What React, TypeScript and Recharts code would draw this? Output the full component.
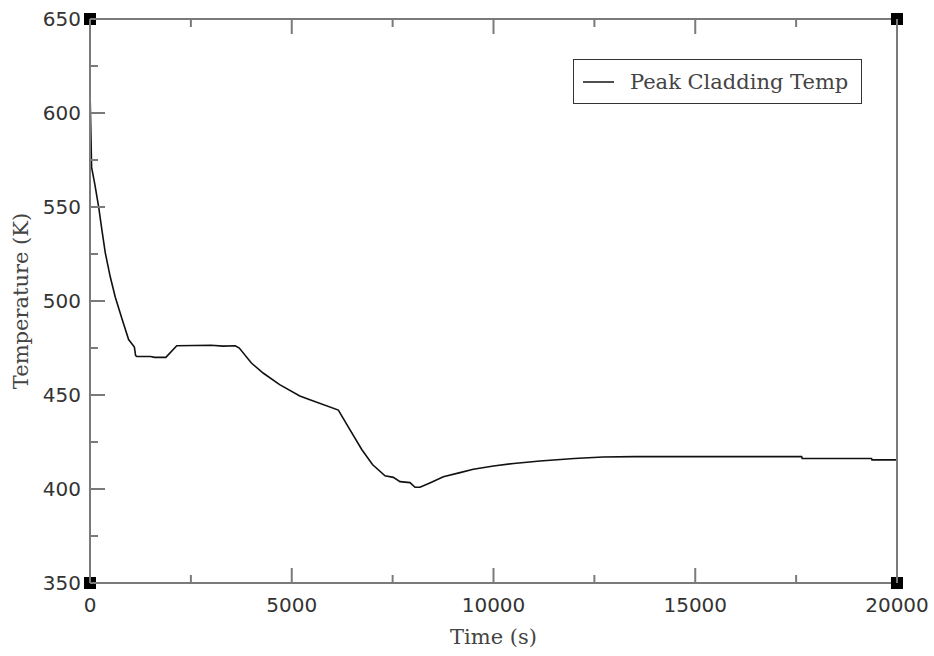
import React from "react";
import {
  LineChart,
  Line,
  XAxis,
  YAxis,
  Legend,
  Label,
  ReferenceDot,
} from "recharts";

// time (s) and peak cladding temperature (K)
const times = [
  0, 40, 120, 215, 300, 380, 500, 627, 800, 957, 1100, 1130, 1160, 1500,
  1600, 1880, 2150, 3000, 3300, 3600, 3700, 4000, 4290, 4700, 5200, 5450,
  6155, 6400, 6735, 7000, 7311, 7518, 7683, 7931, 8055, 8178, 8450, 8757,
  9170, 9500, 10000, 10500, 11152, 12000, 12714, 13500, 15000, 17637, 17650,
  19370, 19380, 20000,
];
const temps = [
  612, 571, 562, 550, 537, 525.5, 513, 502, 490, 479.5, 475.5, 471, 470.5,
  470.5, 470, 470, 476.2, 476.5, 476, 476.2, 475, 467, 461.7, 455.5, 449.5,
  447.5, 442, 433, 421, 413, 407, 406.2, 403.9, 403.4, 400.9, 400.9, 403.5,
  406.5, 408.7, 410.5, 412.2, 413.6, 414.9, 416.2, 417, 417.2, 417.2, 417.2,
  416.2, 416.2, 415.5, 415.5,
];

const xMajor = [0, 5000, 10000, 15000, 20000];
const xMinor = [2500, 7500, 12500, 17500];
const yMajor = [350, 400, 450, 500, 550, 600, 650];
const yMinor = [375, 425, 475, 525, 575, 625];
const corners = [
  [0, 350],
  [0, 650],
  [20000, 350],
  [20000, 650],
];

const data = times.map((t, i) => ({ time: t, temp: temps[i] }));
const xTicks = [...xMajor, ...xMinor].sort((a, b) => a - b);
const yTicks = [...yMajor, ...yMinor].sort((a, b) => a - b);

const frame = "#7a7a7a";
const tickFont = { fontFamily: "DejaVu Sans", fontSize: 20, fill: "#333" };
const titleFont = { fontFamily: "DejaVu Serif", fontSize: 21, fill: "#444" };

const XTick = ({ x, y, payload, side }: any) => {
  const major = xMajor.includes(payload.value);
  const len = major ? 15 : 8;
  const dir = side === "top" ? 1 : -1;
  return (
    <g>
      <line x1={x} x2={x} y1={y} y2={y + dir * len} stroke={frame} strokeWidth={2} />
      {side === "bottom" && major && (
        <text x={x} y={y + 29} textAnchor="middle" {...tickFont}>
          {payload.value}
        </text>
      )}
    </g>
  );
};

const YTick = ({ x, y, payload, side }: any) => {
  const major = yMajor.includes(payload.value);
  const len = major ? 15 : 8;
  const dir = side === "left" ? 1 : -1;
  return (
    <g>
      <line x1={x} x2={x + dir * len} y1={y} y2={y} stroke={frame} strokeWidth={2} />
      {side === "left" && major && (
        <text x={x - 9} y={y + 7} textAnchor="end" {...tickFont}>
          {payload.value}
        </text>
      )}
    </g>
  );
};

const LegendBox = () => (
  <div
    style={{
      width: 289,
      height: 45,
      boxSizing: "border-box",
      border: "1.5px solid #333",
      background: "#fff",
      display: "flex",
      alignItems: "center",
    }}
  >
    <svg width={40} height={20} style={{ marginLeft: 9 }}>
      <line x1={0} x2={31} y1={10} y2={10} stroke="#222" strokeWidth={1.6} />
    </svg>
    <span
      style={{
        fontFamily: "DejaVu Serif",
        fontSize: 21,
        color: "#444",
        marginLeft: 7,
        whiteSpace: "nowrap",
      }}
    >
      Peak Cladding Temp
    </span>
  </div>
);

const Square = ({ cx, cy }: any) => (
  <rect x={cx - 6} y={cy - 6} width={12} height={12} fill="#000" />
);

export default function App() {
  return (
    <div style={{ position: "absolute", left: 0, top: 0, background: "#fff" }}>
      <LineChart
        width={934}
        height={656}
        data={data}
        margin={{ top: 18, right: 36, left: 0, bottom: 0 }}
      >
        <XAxis
          xAxisId="bottom"
          dataKey="time"
          type="number"
          domain={[0, 20000]}
          ticks={xTicks}
          interval={0}
          height={73}
          tickSize={0}
          tickMargin={0}
          tickLine={false}
          axisLine={{ stroke: frame, strokeWidth: 2 }}
          tick={<XTick side="bottom" />}
        >
          <Label
            content={({ viewBox }: any) => (
              <text
                x={viewBox.x + viewBox.width / 2}
                y={viewBox.y + 61}
                textAnchor="middle"
                {...titleFont}
              >
                Time (s)
              </text>
            )}
          />
        </XAxis>
        <XAxis
          xAxisId="top"
          orientation="top"
          type="number"
          dataKey="time"
          domain={[0, 20000]}
          ticks={xTicks}
          interval={0}
          height={1}
          tickSize={0}
          tickMargin={0}
          tickLine={false}
          axisLine={{ stroke: frame, strokeWidth: 2 }}
          tick={<XTick side="top" />}
        />
        <YAxis
          yAxisId="left"
          type="number"
          domain={[350, 650]}
          ticks={yTicks}
          interval={0}
          width={90}
          tickSize={0}
          tickMargin={0}
          tickLine={false}
          axisLine={{ stroke: frame, strokeWidth: 2 }}
          tick={<YTick side="left" />}
        >
          <Label
            content={({ viewBox }: any) => {
              const cx = 28;
              const cy = viewBox.y + viewBox.height / 2;
              return (
                <text
                  x={cx}
                  y={cy}
                  textAnchor="middle"
                  transform={`rotate(-90 ${cx} ${cy})`}
                  {...titleFont}
                >
                  Temperature (K)
                </text>
              );
            }}
          />
        </YAxis>
        <YAxis
          yAxisId="right"
          orientation="right"
          type="number"
          domain={[350, 650]}
          ticks={yTicks}
          interval={0}
          width={1}
          tickSize={0}
          tickMargin={0}
          tickLine={false}
          axisLine={{ stroke: frame, strokeWidth: 2 }}
          tick={<YTick side="right" />}
        />
        <Legend
          layout="vertical"
          align="center"
          verticalAlign="middle"
          wrapperStyle={{ left: 573, top: 59, width: 289 }}
          content={() => <LegendBox />}
        />
        <Line
          xAxisId="bottom"
          yAxisId="left"
          type="linear"
          dataKey="temp"
          name="Peak Cladding Temp"
          stroke="#111"
          strokeWidth={1.6}
          dot={false}
          isAnimationActive={false}
        />
        {corners.map(([cx, cy], i) => (
          <ReferenceDot
            key={i}
            xAxisId="bottom"
            yAxisId="left"
            x={cx}
            y={cy}
            ifOverflow="visible"
            shape={<Square />}
          />
        ))}
      </LineChart>
    </div>
  );
}
